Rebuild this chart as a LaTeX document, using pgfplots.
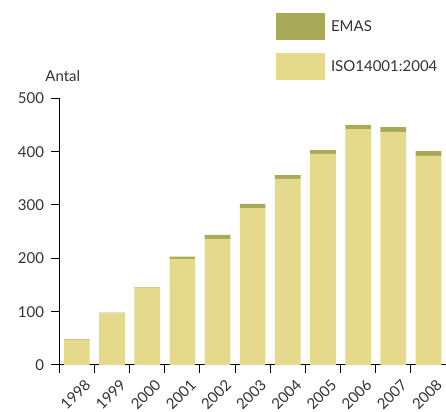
\documentclass[border=0pt]{standalone}
\usepackage{fontspec}
\setmainfont{Lato}
\usepackage{pgfplots}
\pgfplotsset{compat=1.18}
\definecolor{isocol}{HTML}{E5DA8C}
\definecolor{emascol}{HTML}{A9A95A}
\definecolor{txt}{HTML}{333333}
\newcommand{\chartfont}{\fontsize{15}{17}\selectfont}
\begin{document}
\begin{tikzpicture}[x=1pt,y=1pt]
\begin{axis}[
  name=ax,
  scale only axis,
  width=386.7pt, height=266.7pt,
  ybar stacked,
  bar width=0.73,
  xmin=-0.5, xmax=10.5,
  ymin=0, ymax=500,
  axis lines*=left,
  axis line style={black, line width=1pt},
  tick style={black, line width=1pt},
  major tick length=8pt,
  tick align=outside,
  xtick={-0.5,0.5,...,10.5},
  xticklabels={},
  extra x ticks={0,1,2,3,4,5,6,7,8,9,10},
  extra x tick labels={1998,1999,2000,2001,2002,2003,2004,2005,2006,2007,2008},
  extra x tick style={major tick length=0pt,
    xticklabel style={xshift=7pt, yshift=-13pt, rotate=45, anchor=north east, inner sep=0pt}},
  ytick={0,100,...,500},
  ticklabel style={font=\chartfont, text=txt},
  /pgf/number format/assume math mode=true,
  yticklabel style={anchor=east, inner sep=0pt, xshift=-7pt},
  legend style={draw=none, fill=none, at={(0.5604,1)}, anchor=north west,
    yshift=85.3pt, inner sep=0pt, outer sep=0pt,
    nodes={inner sep=0pt, outer sep=0pt},
    /tikz/every odd column/.style={column sep=6pt},
    row sep=13pt,
    font=\chartfont, text=txt,
    cells={anchor=west}},
  legend image code/.code={\fill[#1] (0pt,-13.5pt) rectangle (49pt,13.5pt);},
  reverse legend,
  clip=false,
]
\addplot[fill=isocol, draw=none] coordinates {
  (0,47) (1,97) (2,145) (3,199) (4,236) (5,294) (6,349) (7,396) (8,442) (9,437) (10,392)};
\addplot[fill=emascol, draw=none] coordinates {
  (0,1) (1,1) (2,1) (3,4) (4,8) (5,8) (6,7) (7,7) (8,8) (9,9) (10,9)};
\legend{ISO14001:2004,EMAS}
\node[anchor=base, inner sep=0pt, font=\chartfont, text=txt] at (rel axis cs:0,1) [yshift=17pt, xshift=3.5pt] {Antal};
\end{axis}
\pgfresetboundingbox
\path[use as bounding box] ([shift={(-59.3pt,-47pt)}]ax.south west) rectangle ([shift={(0pt,98.3pt)}]ax.north east);
\end{tikzpicture}
\end{document}
